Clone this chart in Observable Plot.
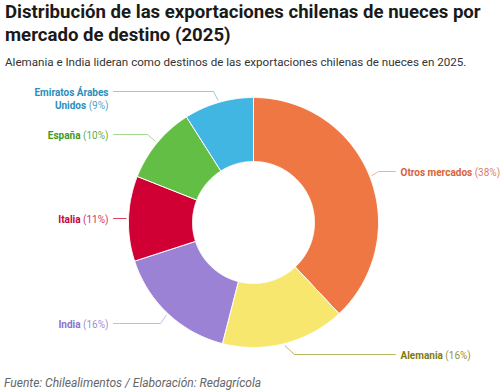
<!DOCTYPE html>
<html><head><meta charset="utf-8">
<script src="https://cdn.jsdelivr.net/npm/d3@7"></script>
<script src="https://cdn.jsdelivr.net/npm/@observablehq/plot@0.6"></script>
<style>
body{margin:0;width:500px;height:392px;position:relative;font-family:Roboto,sans-serif;background:#fff;overflow:hidden}
#title{position:absolute;left:5px;top:1px;font-size:18.6px;line-height:23px;font-weight:700;color:#1a1a1a;white-space:nowrap}
#sub{position:absolute;left:5px;top:54px;font-size:11.6px;line-height:16px;color:#333;white-space:nowrap}
#chart{position:absolute;left:0;top:72px}
#cap{position:absolute;left:4px;top:376px;font-size:12px;line-height:14px;font-style:italic;color:#666;white-space:nowrap}
</style></head>
<body>
<div id="title">Distribución de las exportaciones chilenas de nueces por<br>mercado de destino (2025)</div>
<div id="sub">Alemania e India lideran como destinos de las exportaciones chilenas de nueces en 2025.</div>
<div id="chart"></div>
<div id="cap">Fuente: Chilealimentos / Elaboración: Redagrícola</div>
<script>
// ---- data ----
const categories = ["Otros mercados", "Alemania", "India", "Italia", "España", "Emiratos Árabes Unidos"];
const labelNames = ["Otros mercados", "Alemania", "India", "Italia", "España", "Emiratos Árabes\nUnidos"];
const shares = [38, 16, 16, 11, 10, 9];
const sliceColors = ["#EE7743", "#F8E76F", "#9B82D4", "#D00034", "#63BE45", "#42B6E2"];
const textColors = ["#D6633A", "#7E7A10", "#8B74C8", "#C8003A", "#3F9A22", "#2A8EBB"];
const lineColors = ["#F2B294", "#BDB661", "#C6B8E8", "#D9415F", "#A6D896", "#8FCBE6"];

// ---- layout (px offsets from pie centre) ----
const R = 125, r0 = 61;
const layout = [
  {side: "right", elbow: [125, -51], end: [142, -51], ty: -51},
  {side: "right", elbow: [41, 132], end: [142, 132], ty: 132},
  {side: "left", elbow: [-93, 101], end: [-140, 101], ty: 101},
  {side: "left", elbow: null, end: [-140, -4], ty: -4},
  {side: "left", elbow: [-106, -88], end: [-140, -88], ty: -88},
  {side: "left", elbow: [-40, -131], end: [-140, -131], ty: -124.5}
];

const total = d3.sum(shares);
let acc = 0;
const slices = shares.map((v, i) => {
  const a0 = acc / total * 2 * Math.PI; acc += v;
  const a1 = acc / total * 2 * Math.PI;
  return {name: categories[i], a0, a1, mid: (a0 + a1) / 2};
});
const polar = (rad, a) => [rad * Math.sin(a), -rad * Math.cos(a)];
const rows = [];
for (const s of slices) {
  const n = Math.max(2, Math.ceil((s.a1 - s.a0) / (Math.PI / 360)));
  const pts = [];
  for (let k = 0; k <= n; k++) pts.push(polar(R, s.a0 + (s.a1 - s.a0) * k / n));
  for (let k = n; k >= 0; k--) pts.push(polar(r0, s.a0 + (s.a1 - s.a0) * k / n));
  pts.push(pts[0]);
  for (const [x, y] of pts) rows.push({name: s.name, x, y});
}

const marks = [
  Plot.line(rows, {x: "x", y: "y", z: "name", fill: "name", stroke: "white", strokeWidth: 1, curve: "linear"})
];
slices.forEach((s, i) => {
  const L = layout[i];
  const start = polar(R * 1.02, s.mid);
  const pts = [start];
  if (L.elbow) pts.push(L.elbow);
  pts.push(L.end);
  marks.push(Plot.line(pts.map(([x, y]) => ({x, y})), {x: "x", y: "y", stroke: lineColors[i], strokeWidth: 1}));
  const label = `${labelNames[i]} (${shares[i]}%)`;
  marks.push(Plot.text([{x: L.side === "right" ? 147 : -145, y: L.ty, t: label}], {
    x: "x", y: "y", text: "t", fill: textColors[i],
    textAnchor: L.side === "right" ? "start" : "end",
    fontSize: 10, lineHeight: 1.3
  }));
});

const chart = Plot.plot({
  width: 500, height: 300,
  margin: 0,
  style: {fontFamily: "Roboto, sans-serif", background: "white"},
  x: {domain: [-253, 247], range: [0, 500], axis: null},
  y: {domain: [-150, 150], range: [0, 300], axis: null},
  color: {domain: categories, range: sliceColors},
  marks
});
// bold names, regular percentages
chart.querySelectorAll('g[aria-label="text"] text').forEach(t => {
  t.setAttribute("font-weight", "700");
  const tsp = t.querySelectorAll("tspan");
  const lines = tsp.length ? Array.from(tsp) : [t];
  lines.forEach(node => {
    const s = node.textContent;
    const m = s.match(/^(.*?)(\s\(.*\))$/);
    if (!m) return;
    node.textContent = "";
    const a = document.createElementNS("http://www.w3.org/2000/svg", "tspan");
    a.textContent = m[1];
    const b = document.createElementNS("http://www.w3.org/2000/svg", "tspan");
    b.textContent = m[2];
    b.setAttribute("font-weight", "400");
    b.setAttribute("fill-opacity", "0.85");
    node.appendChild(a); node.appendChild(b);
  });
});
document.getElementById("chart").appendChild(chart);
</script>
</body></html>
